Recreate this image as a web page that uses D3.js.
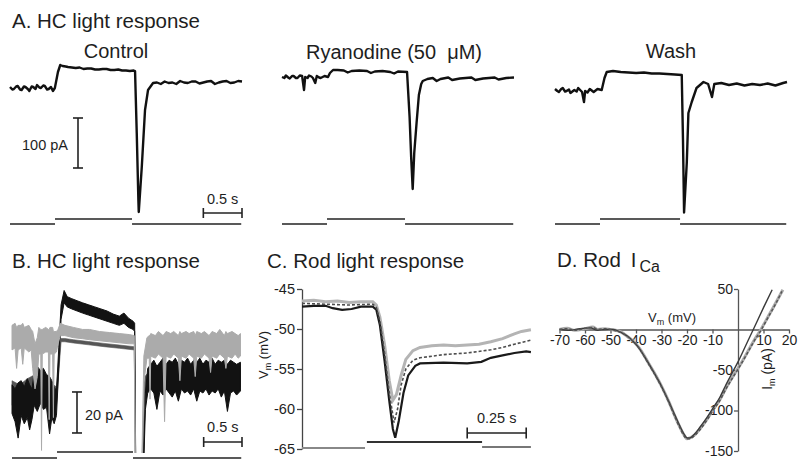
<!DOCTYPE html>
<html><head><meta charset="utf-8">
<script src="https://cdn.jsdelivr.net/npm/d3@7/dist/d3.min.js"></script>
<style>
body{margin:0;background:#fff}
svg{display:block}
text{font-family:"Liberation Sans",Arial,Helvetica,sans-serif;fill:#1e1e1e}
</style>
</head><body>
<svg id="c" width="800" height="467"></svg>
<script>
// ---------------- DATA ----------------
// Panel A: HC light response (time s, current pA relative to baseline)
const aTitles = ["Control", "Ryanodine (50  \u03BCM)", "Wash"];
const aControl = [[0,2],[0.03,-3],[0.05,-2],[0.08,3],[0.1,4],[0.13,-3],[0.15,-4],[0.18,3],[0.2,2],[0.23,-2],[0.25,-6],[0.28,3],[0.3,2],[0.33,-2],[0.35,6],[0.38,1],[0.4,0],[0.43,5],[0.45,4],[0.48,-3],[0.5,-2],[0.53,2],[0.555,-6],[0.58,0],[0.60,16],[0.62,32],[0.65,46],[0.68,44],[0.72,43],[0.75,42],[0.8,41],[0.85,40],[0.9,41],[0.95,38],[1.0,39],[1.05,39],[1.1,37],[1.15,37],[1.2,38],[1.25,38],[1.3,36],[1.35,36],[1.4,37],[1.45,35],[1.5,35],[1.55,34],[1.6,35],[1.617,34],[1.639,-90],[1.66,-224],[1.665,-248],[1.704,-158],[1.746,-44],[1.785,-4],[1.85,10],[1.9,11],[1.95,8],[2.0,13],[2.05,10],[2.1,11],[2.15,8],[2.2,14],[2.25,11],[2.3,10],[2.35,13],[2.4,13],[2.45,9],[2.5,11],[2.55,13],[2.6,14],[2.65,8],[2.7,11],[2.75,13],[2.8,14],[2.85,10],[2.9,11],[2.95,14],[3.0,13]];
const aRyanodine = [[0,0],[0.03,-2],[0.05,3],[0.08,-1],[0.1,-3],[0.13,2],[0.15,2],[0.18,-2],[0.2,-2],[0.23,3],[0.26,2],[0.285,-26],[0.3,0],[0.33,-2],[0.35,3],[0.38,1],[0.4,-2],[0.43,-12],[0.45,2],[0.48,-1],[0.5,-2],[0.55,2],[0.595,0],[0.62,8],[0.66,14],[0.72,14],[0.8,13],[0.85,9],[0.9,12],[1.0,13],[1.1,12],[1.15,8],[1.2,11],[1.3,12],[1.4,10],[1.45,7],[1.5,11],[1.617,10],[1.65,-80],[1.67,-160],[1.69,-224],[1.71,-152],[1.74,-92],[1.77,-36],[1.8,-14],[1.82,-8],[1.88,-4],[1.95,-2],[2.0,-8],[2.05,-4],[2.15,-1],[2.2,-6],[2.3,-3],[2.45,-1],[2.5,-6],[2.6,-3],[2.75,-1],[2.8,-5],[2.9,-2],[3.0,-1]];
const aWash = [[0,2],[0.03,-2],[0.05,-4],[0.08,2],[0.1,4],[0.13,-3],[0.15,-2],[0.18,1],[0.2,-6],[0.25,0],[0.28,-3],[0.3,4],[0.35,-4],[0.375,-24],[0.39,-2],[0.42,-5],[0.45,2],[0.5,-4],[0.55,2],[0.604,0],[0.64,24],[0.669,36],[0.75,38],[0.85,36],[0.95,35],[1.05,34],[1.15,35],[1.25,33],[1.35,33],[1.45,32],[1.55,31],[1.639,30],[1.655,-100],[1.669,-245],[1.704,-146],[1.725,-46],[1.768,-24],[1.83,4],[1.92,16],[1.98,12],[2.03,-14],[2.06,12],[2.15,14],[2.25,10],[2.35,13],[2.45,9],[2.55,12],[2.65,10],[2.75,13],[2.85,9],[2.95,14],[3.0,16]];
const aLightOn = [0.582, 0.582, 0.582];
const aLightOff = [1.578, 1.591, 1.617];
const aEnd = 2.99;

// Panel B: HC light response, three overlaid recordings [t, low, high] pA
const bControl = [[0.00,-10,4],[0.04,-14,2],[0.08,-22,5],[0.12,-11,6],[0.16,-15,3],[0.20,-12,7],[0.23,-18,4],[0.26,-13,2],[0.29,-6,10],[0.33,-9,13],[0.37,-5,11],[0.41,-8,12],[0.45,-7,9],[0.49,-20,8],[0.52,-12,6],[0.55,-15,3],[0.58,-11,1],[0.61,12,22],[0.64,36,43],[0.68,44,50],[0.72,42,47],[0.78,41,46],[0.85,40,45],[0.92,39,44],[1.00,38,43],[1.08,37,42],[1.16,36,41],[1.24,35,40],[1.32,34,38.5],[1.40,33,37.5],[1.46,34,39],[1.52,32,36.5],[1.58,31,35],[1.60,30,34],[1.615,-45,-40],[1.71,-45,-40],[1.74,-8,0],[1.77,0,12],[1.81,2,14],[1.85,0,16],[1.89,-8,13],[1.93,1,15],[1.97,-1,17],[2.01,2,14],[2.05,0,16],[2.09,-2,15],[2.13,1,17],[2.17,-4,14],[2.21,2,16],[2.25,0,15],[2.29,1,17],[2.33,-1,14],[2.37,2,16],[2.41,-4,15],[2.45,1,17],[2.49,0,14],[2.53,2,16],[2.57,-1,15],[2.61,1,17],[2.65,0,14],[2.69,2,16],[2.73,-2,15],[2.77,1,16],[2.81,-9,14],[2.85,0,16],[2.89,1,15],[2.93,-1,14],[2.98,1,15]];
const bRyanodine = [[0.00,21,33],[0.04,22,34],[0.06,12,32],[0.08,21,33],[0.12,22,33],[0.14,14,34],[0.16,22,32],[0.22,20,33],[0.25,21,31],[0.27,12,30],[0.30,2,24],[0.33,8,27],[0.35,19,32],[0.375,19,31],[0.385,-28,31],[0.395,19,31],[0.44,20,32],[0.475,20,31],[0.485,-13,31],[0.495,19,32],[0.53,19,32],[0.54,-12,30],[0.55,19,30],[0.58,20,30],[0.60,24,31],[0.63,28,34],[0.69,28,33],[0.80,27,32],[0.92,26.5,31],[1.01,26,31],[1.14,25.5,30],[1.27,25,29.5],[1.40,24.5,29],[1.53,24,28.5],[1.595,24,28],[1.61,-45,-40],[1.69,-45,-40],[1.72,5,18],[1.76,17,27],[1.79,17,28],[1.80,-3,28],[1.81,18,29],[1.87,17,28],[1.91,19,30],[1.97,17,28],[1.99,-14,29],[2.01,18,30],[2.07,17,29],[2.11,19,30],[2.17,17,28],[2.19,6,30],[2.21,18,29],[2.27,17,30],[2.31,19,29],[2.37,17,30],[2.39,8,28],[2.41,18,30],[2.47,17,29],[2.51,19,30],[2.57,17,28],[2.59,10,29],[2.61,18,30],[2.67,17,29],[2.71,19,31],[2.77,17,28],[2.79,12,30],[2.81,18,29],[2.87,17,30],[2.91,19,29],[2.95,17,28],[2.98,18,29]];
const bWash = [[0,-6,6],[0.1,-8,4],[0.2,-5,7],[0.3,-2,9],[0.4,-3,8],[0.5,-6,5],[0.58,-5,3],[0.61,10,14],[0.64,25,26.6],[0.69,25,26.6],[0.80,24.4,26],[1.00,23.5,25.1],[1.20,22.6,24.2],[1.40,21.8,23.4],[1.595,21,22.6],[1.61,-45,-40],[1.70,-45,-40],[1.73,0,8],[1.78,3,10],[2.0,3,12],[2.5,4,12],[2.98,3,12]];
const bLightOn = 0.587, bLightOff = 1.578, bEnd = 2.99;

// Panel C: Rod light response (time s, Vm mV)
const cTicks = [-45, -50, -55, -60, -65];
const cGray = [[0,-46.5],[0.05,-46.4],[0.1,-46.6],[0.15,-46.5],[0.2,-46.7],[0.25,-46.6],[0.3,-46.6],[0.315,-47],[0.33,-48.5],[0.35,-52],[0.37,-56.5],[0.385,-58.9],[0.4,-58.2],[0.42,-55.8],[0.44,-53.8],[0.47,-52.7],[0.5,-52.3],[0.55,-52.1],[0.6,-52],[0.65,-52.1],[0.7,-52],[0.75,-51.9],[0.8,-51.6],[0.85,-51.2],[0.9,-50.6],[0.93,-50.3],[0.97,-50.1]];
const cDashed = [[0,-46.8],[0.1,-46.9],[0.2,-47],[0.3,-46.9],[0.315,-47.3],[0.33,-49],[0.35,-53],[0.37,-58],[0.39,-61.7],[0.405,-60],[0.42,-57],[0.44,-55],[0.47,-53.9],[0.5,-53.6],[0.6,-53.2],[0.7,-53],[0.8,-52.6],[0.85,-52.3],[0.9,-51.9],[0.97,-51.4]];
const cBlack = [[0,-47.2],[0.05,-47.1],[0.1,-47.1],[0.13,-47.4],[0.17,-47.6],[0.21,-47.5],[0.25,-47.2],[0.3,-47.2],[0.315,-47.6],[0.33,-49.5],[0.35,-54],[0.37,-59],[0.385,-62.5],[0.395,-63.6],[0.41,-61.5],[0.43,-58],[0.45,-55.8],[0.48,-54.6],[0.5,-54.3],[0.6,-54.2],[0.7,-54.3],[0.76,-54.1],[0.8,-53.6],[0.85,-53.3],[0.9,-53],[0.95,-52.8],[0.97,-52.9]];
const cLightOn = 0.27, cLightOff = 0.763, cEnd = 0.97;

// Panel D: Rod I_Ca, I-V relation (Vm mV, Im pA)
const dXTicks = [-70, -60, -50, -40, -30, -20, -10, 10, 20];
const dYTicks = [50, -50, -100, -150];
const dGray = [[-70,0],[-67,1.5],[-64,-1],[-60,1],[-57,3],[-55,0],[-52,1],[-50,0],[-48,-1],[-46,-3],[-44,-7],[-42,-12],[-40,-18],[-38,-26],[-35,-42],[-32,-58],[-30,-70],[-27,-90],[-25,-105],[-23,-119],[-21,-131],[-20,-135],[-19,-134],[-17,-130],[-15,-123],[-12,-110],[-10,-100],[-7,-86],[-5,-74],[-2,-58],[0,-48],[3,-32],[6,-15],[9,0],[12,17],[15,34],[17.6,49]];
const dDashed = [[-70,0],[-67,1],[-64,-1],[-60,1.5],[-57,2.5],[-55,0],[-52,1],[-50,0],[-48,-1.5],[-46,-3.5],[-44,-7],[-42,-12],[-40,-18],[-38,-27],[-35,-43],[-32,-59],[-30,-71],[-27,-91],[-25,-106],[-23,-120],[-21,-132],[-20,-135],[-19,-135],[-17,-131],[-15,-124],[-12,-111],[-10,-101],[-7,-87],[-5,-75],[-2,-59],[0,-49],[3,-33],[6,-16],[9,-1],[12,16],[15,33],[17.2,47]];
const dBlack = [[-70,0],[-66,-1],[-62,1],[-58,2],[-55,-1],[-52,0],[-49,0],[-47,-2],[-45,-5],[-43,-9],[-41,-15],[-39,-22],[-36,-37],[-33,-53],[-30,-70],[-27,-90],[-25,-104],[-23,-118],[-21,-130],[-20,-134],[-19,-134],[-17,-129],[-15,-121],[-12,-108],[-10,-98],[-7,-83],[-5,-70],[-2,-52],[0,-40],[3,-20],[6,0],[10,27],[13.4,49]];

// ---------------- DRAW ----------------
const svg = d3.select("#c");
const FONT = '"Liberation Sans", Arial, Helvetica, sans-serif';
const plain = d => String(d);   // hyphen-minus like the original

function label(x, y, s, size, anchor) {
  return svg.append("text").attr("x", x).attr("y", y)
    .attr("font-size", size).attr("text-anchor", anchor || "start")
    .style("white-space", "pre").text(s);
}
function hbar(x1, x2, y, color, w) {
  svg.append("line").attr("x1", x1).attr("x2", x2).attr("y1", y).attr("y2", y)
    .attr("stroke", color || "#222").attr("stroke-width", w || 1.6);
}
function vbar(x, y1, y2, color, w) {
  svg.append("line").attr("x1", x).attr("x2", x).attr("y1", y1).attr("y2", y2)
    .attr("stroke", color || "#222").attr("stroke-width", w || 1.6);
}
function scaleBarH(x1, x2, y, cap) { hbar(x1, x2, y, "#222", 1.6); vbar(x1, y - cap, y + cap); vbar(x2, y - cap, y + cap); }
function scaleBarV(x, y1, y2, cap) { vbar(x, y1, y2, "#222", 1.6); hbar(x - cap, x + cap, y1); hbar(x - cap, x + cap, y2); }
function styleAxis(g, size, col) {
  g.select(".domain").attr("stroke", col).attr("stroke-width", 1.3);
  g.selectAll(".tick line").attr("stroke", col).attr("stroke-width", 1.3);
  g.selectAll(".tick text").attr("font-size", size).attr("fill", "#1e1e1e").attr("font-family", FONT);
}

// ---- Panel A ----
label(12, 28, "A. HC light response", 20.5);
const aTraces = [aControl, aRyanodine, aWash];
const aLeft = [10, 282, 555];
const aBase = [88, 77, 90];
const aTitleX = [116, 394, 671];
const aTitleY = [58, 59, 58];
let aX0, aY0;
aTraces.forEach((tr, i) => {
  const x = d3.scaleLinear().domain([0, 3]).range([aLeft[i], aLeft[i] + 232]);
  const y = d3.scaleLinear().domain([0, 100]).range([aBase[i], aBase[i] - 50]);
  if (i === 0) { aX0 = x; aY0 = y; }
  label(aTitleX[i], aTitleY[i], aTitles[i], 20, "middle");
  svg.append("path").datum(tr)
    .attr("d", d3.line().x(d => x(d[0])).y(d => y(d[1])))
    .attr("fill", "none").attr("stroke", "#111").attr("stroke-width", 2.4)
    .attr("stroke-linejoin", "round");
  hbar(x(0), x(aLightOn[i]), 224, "#222", 1.5);
  hbar(x(aLightOn[i]), x(aLightOff[i]), 219, "#222", 1.5);
  hbar(x(aLightOff[i]), x(aEnd), 224, "#222", 1.5);
});
scaleBarV(78, aY0(-60), aY0(-160), 5);
label(68, 150, "100 pA", 14.5, "end");
scaleBarH(aX0(2.5), aX0(3.0), 213, 5);
label((aX0(2.5) + aX0(3.0)) / 2, 204, "0.5 s", 14.5, "middle");

// ---- Panel B ----
label(12, 268, "B. HC light response", 20.5);
const bx = d3.scaleLinear().domain([0, 3]).range([12, 242]);
const by = d3.scaleLinear().domain([0, 20]).range([393, 352]);
svg.append("clipPath").attr("id", "clipB").append("rect")
  .attr("x", 0).attr("y", 270).attr("width", 250).attr("height", 183);
const bArea = d3.area().x(d => bx(d[0])).y0(d => by(d[1])).y1(d => by(d[2]));
const gB = svg.append("g").attr("clip-path", "url(#clipB)");
[[bWash, "#555555", 0.6], [bControl, "#121212", 1], [bRyanodine, "#ababab", 1]].forEach(([data, col, w]) => {
  gB.append("path").datum(data).attr("d", bArea)
    .attr("fill", col).attr("stroke", col).attr("stroke-width", w).attr("stroke-linejoin", "round");
});
hbar(bx(0), bx(bLightOn), 458, "#222", 1.6);
hbar(bx(bLightOn), bx(bLightOff), 452, "#222", 1.6);
hbar(bx(bLightOff), bx(bEnd), 458, "#222", 1.6);
scaleBarV(77, by(0.5), by(-19.5), 5);
label(85, 420, "20 pA", 14.5, "start");
scaleBarH(bx(2.5), bx(3.0), 442, 5);
label((bx(2.5) + bx(3.0)) / 2, 432, "0.5 s", 14.5, "middle");

// ---- Panel C ----
label(267, 268, "C. Rod light response", 20.5);
const cx = d3.scaleLinear().domain([0, 1]).range([302, 538]);
const cy = d3.scaleLinear().domain([-65, -45]).range([449, 289]);
const cAxis = svg.append("g").attr("transform", "translate(302,0)")
  .call(d3.axisLeft(cy).tickValues(cTicks).tickSize(5).tickSizeOuter(0).tickFormat(plain));
styleAxis(cAxis, 14.5, "#444");
cAxis.selectAll(".tick text").attr("x", -7);
const cyl = svg.append("text").attr("transform", "translate(268,355) rotate(-90)")
  .attr("text-anchor", "middle").attr("font-size", 13);
cyl.append("tspan").text("V");
cyl.append("tspan").attr("font-size", 9).attr("dy", 3).text("m");
cyl.append("tspan").attr("dy", -3).text(" (mV)");
const cLine = d3.line().x(d => cx(d[0])).y(d => cy(d[1]));
svg.append("path").datum(cGray).attr("d", cLine).attr("fill", "none")
  .attr("stroke", "#b4b4b4").attr("stroke-width", 3);
svg.append("path").datum(cBlack).attr("d", cLine).attr("fill", "none")
  .attr("stroke", "#1a1a1a").attr("stroke-width", 2.2);
svg.append("path").datum(cDashed).attr("d", cLine).attr("fill", "none")
  .attr("stroke", "#4d4d4d").attr("stroke-width", 1.6).attr("stroke-dasharray", "3,2");
hbar(cx(0), cx(cLightOn - 0.003), 448, "#888", 2);
hbar(cx(cLightOn + 0.005), cx(cLightOff), 442, "#333", 2);
hbar(cx(cLightOff), cx(cEnd), 447, "#777", 2);
scaleBarH(cx(0.70), cx(0.95), 433, 5.5);
label((cx(0.70) + cx(0.95)) / 2, 423, "0.25 s", 14.5, "middle");

// ---- Panel D ----
const dt = svg.append("text").attr("x", 557).attr("y", 267).attr("font-size", 20.5);
dt.append("tspan").text("D. Rod");
dt.append("tspan").attr("dx", 10).text("I");
dt.append("tspan").attr("dx", 3).attr("dy", 5).attr("font-size", 16).text("Ca");
const dx = d3.scaleLinear().domain([-70, 20]).range([559.5, 789]);
const dy = d3.scaleLinear().domain([-150, 50]).range([451, 289]);
const dxAxis = svg.append("g").attr("transform", `translate(0,${dy(0)})`)
  .call(d3.axisBottom(dx).tickValues(dXTicks).tickSize(4).tickSizeOuter(0).tickFormat(plain));
styleAxis(dxAxis, 14, "#555");
dxAxis.selectAll(".tick text").attr("y", 6);
const dyAxis = svg.append("g").attr("transform", `translate(${dx(0)},0)`)
  .call(d3.axisLeft(dy).tickValues(dYTicks).tickSize(4).tickSizeOuter(0).tickFormat(plain));
styleAxis(dyAxis, 14, "#555");
dyAxis.selectAll(".tick text").attr("x", -5);
const dxl = svg.append("text").attr("x", 672).attr("y", 322).attr("text-anchor", "middle").attr("font-size", 13);
dxl.append("tspan").text("V");
dxl.append("tspan").attr("font-size", 9).attr("dy", 3).text("m");
dxl.append("tspan").attr("dy", -3).text(" (mV)");
const dyl = svg.append("text").attr("transform", "translate(772,369) rotate(-90)")
  .attr("text-anchor", "middle").attr("font-size", 14);
dyl.append("tspan").text("I");
dyl.append("tspan").attr("font-size", 9).attr("dy", 3).text("m");
dyl.append("tspan").attr("dy", -3).text(" (pA)");
const dLine = d3.line().x(d => dx(d[0])).y(d => dy(d[1])).curve(d3.curveMonotoneX);
svg.append("path").datum(dGray).attr("d", dLine).attr("fill", "none")
  .attr("stroke", "#aaaaaa").attr("stroke-width", 3);
svg.append("path").datum(dBlack).attr("d", dLine).attr("fill", "none")
  .attr("stroke", "#3a3a3a").attr("stroke-width", 1.4);
svg.append("path").datum(dDashed).attr("d", dLine).attr("fill", "none")
  .attr("stroke", "#555").attr("stroke-width", 1.5).attr("stroke-dasharray", "3,2");
</script>
</body></html>
